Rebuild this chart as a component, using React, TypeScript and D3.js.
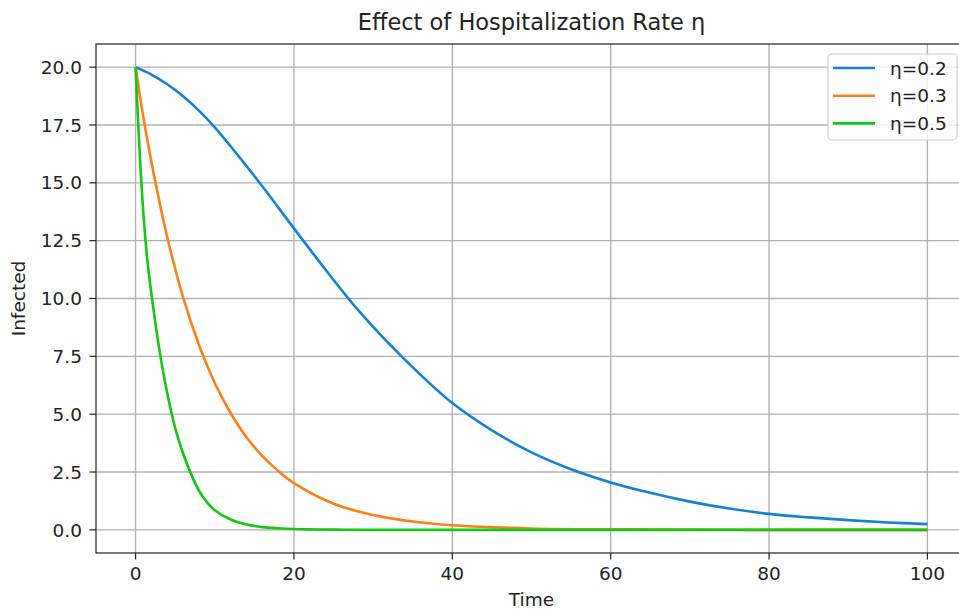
import React from 'react';
import * as d3 from 'd3';

// η = 0.2
const timeLow = [0, 2, 4, 6, 8, 10, 12, 16, 20, 24, 28, 32, 36, 40, 45, 50, 55, 60, 65, 70, 75, 80, 85, 90, 95, 100];
const infectedLow = [20, 19.68, 19.26, 18.74, 18.12, 17.4, 16.58, 14.85, 13.03, 11.24, 9.54, 8.05, 6.7, 5.48, 4.3, 3.35, 2.62, 2.05, 1.6, 1.22, 0.92, 0.69, 0.54, 0.42, 0.32, 0.25];

// η = 0.3
const timeMid = [0, 1, 2, 3, 4, 6, 8, 10, 12, 14, 16, 18, 20, 25, 30, 35, 40, 50, 60, 70, 80, 90, 100];
const infectedMid = [20, 17.8, 15.9, 14.2, 12.65, 10.05, 8.0, 6.35, 5.05, 4.0, 3.2, 2.55, 2.02, 1.13, 0.64, 0.36, 0.2, 0.06, 0.02, 0.01, 0, 0, 0];

// η = 0.5
const timeHigh = [0, 0.5, 1, 1.5, 2, 3, 4, 5, 6, 7, 8, 9, 10, 12, 14, 16, 18, 20, 25, 30, 40, 60, 80, 100];
const infectedHigh = [20, 16.4, 13.6, 11.6, 10.2, 7.8, 5.9, 4.4, 3.3, 2.42, 1.7, 1.2, 0.85, 0.45, 0.23, 0.12, 0.07, 0.04, 0.01, 0, 0, 0, 0, 0];

const seriesNames = ['η=0.2', 'η=0.3', 'η=0.5'];
const seriesColors = ['#1580d8', '#ff7f16', '#12c812'];

const xTicks = [0, 20, 40, 60, 80, 100];
const yTicks = [0, 2.5, 5, 7.5, 10, 12.5, 15, 17.5, 20];

const W = 959;
const H = 609;
const m = { left: 96, top: 44, right: 967, bottom: 553 };
const FONT = '"DejaVu Sans", sans-serif';

export default function App() {
  const x = d3.scaleLinear().domain([-5, 105]).range([m.left, m.right]);
  const y = d3.scaleLinear().domain([-1, 21]).range([m.bottom, m.top]);

  const series = [
    { t: timeLow, v: infectedLow },
    { t: timeMid, v: infectedMid },
    { t: timeHigh, v: infectedHigh },
  ];

  const line = d3.line<[number, number]>()
    .x(d => x(d[0]))
    .y(d => y(d[1]))
    .curve(d3.curveCatmullRom.alpha(0.5));

  const lx = 828, ly = 54;

  return (
    <svg width={W} height={H} style={{ position: 'absolute', left: 0, top: 0, background: '#fff' }} fontFamily={FONT}>
      <rect width={W} height={H} fill="#fff" />

      {/* grid */}
      {xTicks.map(t => (
        <line key={'gx' + t} x1={x(t)} x2={x(t)} y1={m.top} y2={m.bottom} stroke="#b0b0b0" strokeWidth={1.3} />
      ))}
      {yTicks.map(t => (
        <line key={'gy' + t} x1={m.left} x2={m.right} y1={y(t)} y2={y(t)} stroke="#b0b0b0" strokeWidth={1.3} />
      ))}

      {/* curves */}
      {series.map((s, i) => (
        <path
          key={seriesNames[i]}
          d={line(s.t.map((t, j) => [t, s.v[j]] as [number, number])) || ''}
          fill="none"
          stroke={seriesColors[i]}
          strokeWidth={2.6}
          strokeLinejoin="round"
        />
      ))}

      {/* spines */}
      <rect x={m.left} y={m.top} width={m.right - m.left} height={m.bottom - m.top} fill="none" stroke="#222" strokeWidth={1.2} />

      {/* x axis */}
      {xTicks.map(t => (
        <g key={'xt' + t}>
          <line x1={x(t)} x2={x(t)} y1={m.bottom} y2={m.bottom + 6.5} stroke="#222" strokeWidth={1.2} />
          <text x={x(t)} y={m.bottom + 27} textAnchor="middle" fontSize={18.5} fill="#222">{t}</text>
        </g>
      ))}
      <text x={(m.left + m.right) / 2} y={606} textAnchor="middle" fontSize={18.5} fill="#222">Time</text>

      {/* y axis */}
      {yTicks.map(t => (
        <g key={'yt' + t}>
          <line x1={m.left - 6.5} x2={m.left} y1={y(t)} y2={y(t)} stroke="#222" strokeWidth={1.2} />
          <text x={m.left - 14} y={y(t)} dy="0.36em" textAnchor="end" fontSize={18.5} fill="#222">{t.toFixed(1)}</text>
        </g>
      ))}
      <text transform={`translate(25,${(m.top + m.bottom) / 2}) rotate(-90)`} textAnchor="middle" fontSize={18.5} fill="#222">Infected</text>

      {/* title */}
      <text x={(m.left + m.right) / 2} y={30} textAnchor="middle" fontSize={22.5} fill="#222">Effect of Hospitalization Rate η</text>

      {/* legend */}
      <rect x={lx} y={ly} width={129} height={86} rx={4} fill="#fff" fillOpacity={0.8} stroke="#d0d0d0" strokeWidth={1.2} />
      {seriesNames.map((n, i) => (
        <g key={'lg' + n}>
          <line x1={lx + 5} x2={lx + 47} y1={ly + 14 + i * 27.7} y2={ly + 14 + i * 27.7} stroke={seriesColors[i]} strokeWidth={2.6} />
          <text x={lx + 62} y={ly + 14 + i * 27.7} dy="0.36em" fontSize={18.5} fill="#222">{n}</text>
        </g>
      ))}
    </svg>
  );
}
